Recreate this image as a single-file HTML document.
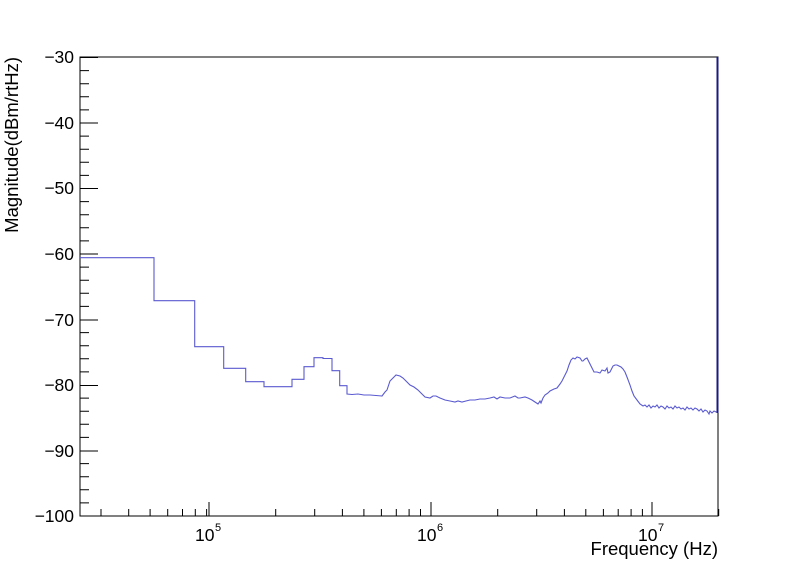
<!DOCTYPE html>
<html><head><meta charset="utf-8"><style>
html,body{margin:0;padding:0;background:#fff;}
svg{display:block;font-family:"Liberation Sans",Arial,sans-serif;}
</style></head><body>
<svg width="798" height="575" viewBox="0 0 798 575" xmlns="http://www.w3.org/2000/svg">
<rect width="798" height="575" fill="#fff"/>
<rect x="80" y="57" width="638" height="459" fill="none" stroke="#000" stroke-width="1"/>
<g stroke="#000" stroke-width="1">
<path d="M80 57.5H98M80 123H98M80 188.5H98M80 254H98M80 320H98M80 385.5H98M80 451H98M80 516H98"/>
<path d="M80 70.6H89M80 83.7H89M80 96.8H89M80 109.9H89M80 136.1H89M80 149.2H89M80 162.3H89M80 175.4H89M80 201.6H89M80 214.7H89M80 227.8H89M80 240.9H89M80 267.1H89M80 280.2H89M80 293.3H89M80 306.4H89M80 332.6H89M80 345.7H89M80 358.8H89M80 371.9H89M80 398.1H89M80 411.2H89M80 424.3H89M80 437.4H89M80 463.6H89M80 476.7H89M80 489.8H89M80 502.9H89"/>
<path d="M209 516V502M431 516V502M652 516V502"/>
<path d="M101 516V509M128.7 516V509M150.1 516V509M167.7 516V509M182.5 516V509M195.3 516V509M206.6 516V509
M275.7 516V509M314.7 516V509M342.4 516V509M363.9 516V509M381.4 516V509M396.3 516V509M409.1 516V509M420.5 516V509
M497.7 516V509M536.7 516V509M564.4 516V509M585.8 516V509M603.4 516V509M618.2 516V509M631.1 516V509M642.4 516V509
M718.7 516V509"/>
</g>
<g font-size="17.5" fill="#000" text-anchor="end">
<text x="74" y="63">−30</text>
<text x="74" y="129">−40</text>
<text x="74" y="194">−50</text>
<text x="74" y="260">−60</text>
<text x="74" y="326">−70</text>
<text x="74" y="391">−80</text>
<text x="74" y="457">−90</text>
<text x="74" y="522">−100</text>
</g>
<g font-size="17.5" fill="#000">
<text x="195" y="541">10</text><text x="215" y="531" font-size="11">5</text>
<text x="417" y="541">10</text><text x="437" y="531" font-size="11">6</text>
<text x="638" y="541">10</text><text x="658" y="531" font-size="11">7</text>
<text x="718" y="555" text-anchor="end" font-size="18.5">Frequency (Hz)</text>
<text transform="translate(18,57) rotate(-90)" text-anchor="end" font-size="18.5">Magnitude(dBm/rtHz)</text>
</g>
<polyline fill="none" stroke="#5a5ad0" stroke-width="1.1" points="
80,257.7 154,257.7 154,300.7 194.7,300.7 194.7,346.7 223.7,346.7 223.7,368.3 245.7,368.3 245.7,381.7 264,381.7 264,386.7 292,386.7 292,379.3 304,379.3 304,366.7 314,366.7 314,357.7 323,357.7 323,358.5 332,358.5 332,370.7 339.7,370.7 339.7,385.7 347,385.7 347,394 352,394.5 358,394 364,395 370,395 376,395.5 382,396 385,392 387,390 390,381 393,378 396,375 400,376 403,378 407,382 410,385 414,387 418,390 421,393 425,397 430,398 433,396 436,396 440,398 445,400 450,401 455,402 458,401 462,402 466,401 470,400 475,400 480,399 485,399 490,398 494,397 497,399 500,397 505,398 510,398 515,396 518,398 520,398 525,397 528,398 532,400 535,402 538,404 540,401 541,403 543,398 545,395 548,393 550,391 554,389 557,388 560,384 562,381 565,375 567,371 569,365 571,360 573,358 575,359 577,357 580,358 582,361 583,361 585,359 587,358 588,360 590,364 592,368 594,372 597,372 600,373 602,370 605,371 607,368 608,373 610,372 612,368 613,366 615,365 617,365 619,366 621,367 623,369 625,372 627,377 630,385 632,391 634,396 637,400 640,404 643,406 645,405 647,407 649,405 651,408 653,406 655,407 657,405 659,408 661,406 663,407 665,409 667,406 669,408 671,407 673,409 675,406 677,408 679,407 681,409 683,408 685,410 687,407 689,409 691,408 693,410 695,408 697,409 699,411 701,409 703,412 705,410 707,411 709,414 710,411 712,413 714,411 716,412 717,412"/>
<line x1="717.5" y1="57" x2="717.5" y2="413" stroke="#1a1a80" stroke-width="2"/>
</svg>
</body></html>
